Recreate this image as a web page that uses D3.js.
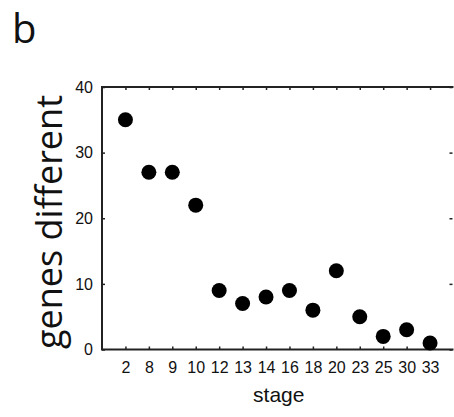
<!DOCTYPE html>
<html>
<head>
<meta charset="utf-8">
<script src="https://cdn.jsdelivr.net/npm/d3@7"></script>
<style>
  body { margin: 0; background: #fff; }
  text { fill: #111; }
</style>
</head>
<body>
<svg width="454" height="417"></svg>
<script>
let stages = ['2', '8', '9', '10', '12', '13', '14', '16', '18', '20', '23', '25', '30', '33']
let genesDifferent = [35, 27, 27, 22, 9, 7, 8, 9, 6, 12, 5, 2, 3, 1]
let yTicks = [0, 10, 20, 30, 40]

let margin = { top: 87, bottom: 67.5, left: 102, right: 0.5 }
let width = 454
let height = 417

let svg = d3.select('svg')

let xScale = d3.scalePoint()
  .domain(stages)
  .range([margin.left, width - margin.right])
  .padding(1)

let yScale = d3.scaleLinear()
  .domain([0, 40])
  .range([height - margin.bottom, margin.top])

let x0 = margin.left, x1 = width - margin.right
let y0 = height - margin.bottom, y1 = margin.top

// frame: left, bottom, top
svg.append('path')
  .attr('d', `M${x1},${y1}H${x0}V${y0}H${x1}`)
  .attr('fill', 'none')
  .attr('stroke', '#222')
  .attr('stroke-width', 2)

// bottom axis
let xAxis = svg.append('g')
  .attr('transform', `translate(0,${y0})`)
  .call(d3.axisBottom(xScale).tickSize(-3).tickPadding(12))
xAxis.select('.domain').remove()
xAxis.selectAll('text')
  .attr('font-family', 'Liberation Sans, Arial, sans-serif')
  .attr('font-size', 16)
  .attr('fill', '#111')

// top ticks
let xTop = svg.append('g')
  .attr('transform', `translate(0,${y1})`)
  .call(d3.axisTop(xScale).tickSize(-3).tickFormat(''))
xTop.select('.domain').remove()

// left axis
let yAxis = svg.append('g')
  .attr('transform', `translate(${x0},0)`)
  .call(d3.axisLeft(yScale).tickValues(yTicks).tickSize(-3).tickPadding(9))
yAxis.select('.domain').remove()
yAxis.selectAll('text')
  .attr('font-family', 'Liberation Sans, Arial, sans-serif')
  .attr('font-size', 16)
  .attr('fill', '#111')

// right ticks
let yRight = svg.append('g')
  .attr('transform', `translate(${x1 - 1},0)`)
  .call(d3.axisRight(yScale).tickValues(yTicks).tickSize(-3).tickFormat(''))
yRight.select('.domain').remove()

svg.selectAll('.tick line').attr('stroke', '#222').attr('stroke-width', 1.5)

// points
svg.append('g')
  .selectAll('circle')
  .data(stages)
  .enter()
  .append('circle')
  .attr('cx', d => xScale(d))
  .attr('cy', (d, i) => yScale(genesDifferent[i]))
  .attr('r', 7.5)
  .attr('fill', '#000')

// axis titles
svg.append('text')
  .attr('x', (x0 + x1) / 2 + 1)
  .attr('y', 402)
  .attr('text-anchor', 'middle')
  .attr('font-family', 'Liberation Sans, Arial, sans-serif')
  .attr('font-size', 21)
  .text('stage')

svg.append('text')
  .attr('transform', 'translate(62,222) rotate(-90)')
  .attr('text-anchor', 'middle')
  .attr('font-family', 'Open Sans, sans-serif')
  .attr('font-size', 36)
  .text('genes different')

// panel letter
svg.append('text')
  .attr('x', 12)
  .attr('y', 43)
  .attr('font-family', 'Open Sans, sans-serif')
  .attr('font-size', 40)
  .text('b')
</script>
</body>
</html>
